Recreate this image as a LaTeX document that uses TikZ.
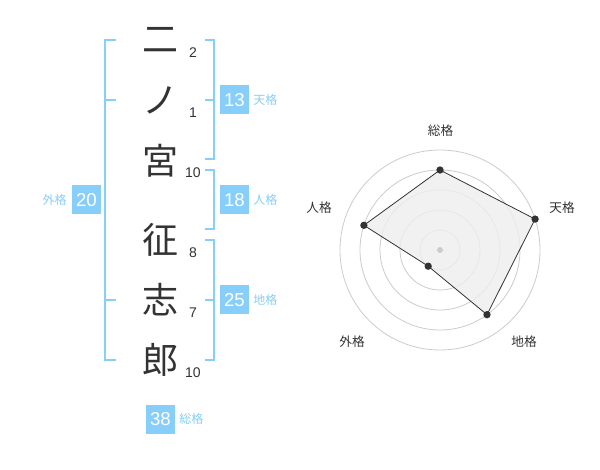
\documentclass[tikz,border=0pt]{standalone}
\usepackage{fontspec}
\setmainfont{Liberation Sans}
\newfontfamily\jp{Noto Sans CJK JP}
\definecolor{sky}{HTML}{87CEFA}
\definecolor{ink}{HTML}{333333}
\definecolor{ring}{HTML}{CCCCCC}
\definecolor{area}{HTML}{EEEEEE}
\begin{document}
\begin{tikzpicture}[x=0.75pt,y=-0.75pt,
  bracket/.style={draw=sky,line width=1.5pt},
  kanji/.style={font=\jp\fontsize{27}{27}\selectfont,text=ink,inner sep=0},
  stroke/.style={font=\fontsize{10.5}{10.5}\selectfont,text=ink,inner sep=0},
  numbox/.style={fill=sky,text=white,minimum width=21.75pt,minimum height=21.75pt,inner sep=0,font=\fontsize{14}{14}\selectfont},
  kaku/.style={text=sky,font=\jp\fontsize{9}{9}\selectfont,inner sep=0},
  axlabel/.style={text=ink,font=\jp\fontsize{9.5}{9.5}\selectfont,inner sep=0},
  vdot/.style={circle,fill=ink,inner sep=0,minimum size=5.5pt}]
\useasboundingbox[fill=white] (0,0) rectangle (600,470);
% characters
\node[kanji] (c1) at (160,40) {二};
\node[kanji] (c2) at (160,100) {ノ};
\node[kanji] (c3) at (160,161) {宮};
\node[kanji] (c4) at (160,240) {征};
\node[kanji] (c5) at (160,300) {志};
\node[kanji] (c6) at (160,360) {郎};
\node[stroke] (s1) at (193,53) {2};
\node[stroke] (s2) at (193,113) {1};
\node[stroke] (s3) at (193,173) {10};
\node[stroke] (s4) at (193,253) {8};
\node[stroke] (s5) at (193,313) {7};
\node[stroke] (s6) at (193,373) {10};
% brackets
\draw[bracket] (116,40) -- (105,40) -- (105,360) -- (116,360);
\draw[bracket] (105,100) -- (116,100);
\draw[bracket] (105,300) -- (116,300);
\draw[bracket] (205,40) -- (214,40) -- (214,159) -- (205,159);
\draw[bracket] (205,100) -- (214,100);
\draw[bracket] (205,170) -- (214,170) -- (214,229) -- (205,229);
\draw[bracket] (205,240) -- (214,240) -- (214,360) -- (205,360);
\draw[bracket] (205,300) -- (214,300);
% boxes
\node[numbox] (b13) at (234.5,100) {13};
\node[kaku,anchor=west] (k13) at (253,100) {天格};
\node[numbox] (b18) at (234.5,200) {18};
\node[kaku,anchor=west] (k18) at (253,200) {人格};
\node[numbox] (b25) at (234.5,300) {25};
\node[kaku,anchor=west] (k25) at (253,300) {地格};
\node[numbox] (b20) at (86.5,200) {20};
\node[kaku,anchor=east] (k20) at (67,200) {外格};
\node[numbox] (b38) at (160.5,419) {38};
\node[kaku,anchor=west] (k38) at (179,419) {総格};
% radar
\coordinate (o) at (440,250);
\foreach \r in {20,40,60,80,100} \draw[ring,line width=0.6pt] (o) circle[radius=\r];
\coordinate (p1) at (440,170);
\coordinate (p2) at (535.1,219.1);
\coordinate (p3) at (487,314.7);
\coordinate (p4) at (428.2,266.2);
\coordinate (p5) at (363.9,225.3);
\fill[area,fill opacity=0.8] (p1) -- (p2) -- (p3) -- (p4) -- (p5) -- cycle;
\draw[ink,line width=0.6pt] (p1) -- (p2) -- (p3) -- (p4) -- (p5) -- cycle;
\node[circle,fill=ring,inner sep=0,minimum size=4.5pt] (ctr) at (o) {};
\foreach \p in {p1,p2,p3,p4,p5} \node[vdot] (d\p) at (\p) {};
\node[axlabel] (a1) at (440.5,131) {総格};
\node[axlabel] (a2) at (562,208) {天格};
\node[axlabel] (a3) at (524,342) {地格};
\node[axlabel] (a4) at (352,342) {外格};
\node[axlabel] (a5) at (319,208) {人格};
\end{tikzpicture}
\end{document}
